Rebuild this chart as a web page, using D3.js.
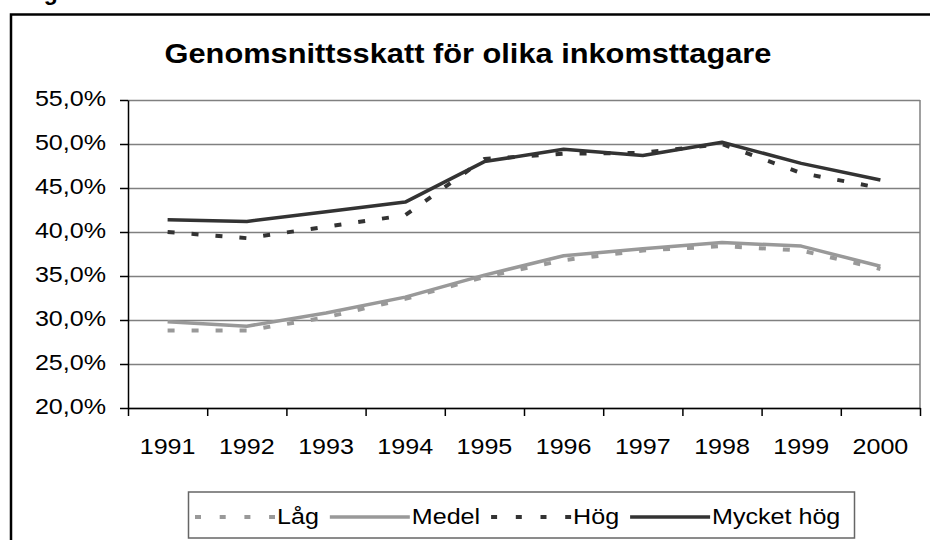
<!DOCTYPE html>
<html>
<head>
<meta charset="utf-8">
<script src="https://cdn.jsdelivr.net/npm/d3@7"></script>
<style>
  body { margin:0; background:#fff; }
  svg { display:block; }
  text { font-family:"Liberation Sans", Arial, sans-serif; fill:#000; }
</style>
</head>
<body>
<div id="canvas"></div>
<script>
// data (percent)
var years = ['1991','1992','1993','1994','1995','1996','1997','1998','1999','2000'];
var lag       = [28.8, 28.8, 30.3, 32.4, 34.9, 36.8, 37.9, 38.4, 37.9, 35.8];
var medel     = [29.8, 29.3, 30.8, 32.6, 35.1, 37.3, 38.1, 38.8, 38.4, 36.1];
var hog       = [40.0, 39.3, 40.6, 41.9, 48.3, 48.9, 49.0, 50.0, 46.7, 45.0];
var mycketHog = [41.4, 41.2, 42.3, 43.4, 48.0, 49.4, 48.7, 50.2, 47.8, 45.9];
var yTicks = [20, 25, 30, 35, 40, 45, 50, 55];
var seriesNames = ['Låg', 'Medel', 'Hög', 'Mycket hög'];

var dark = '#333333', gray = '#999999';
var stretch = 1.14; // the picture's text is a bit wide

var series = [
  {name:seriesNames[0], values:lag,       color:gray, dash:'7,17', width:4},
  {name:seriesNames[1], values:medel,     color:gray, dash:null,   width:3.5},
  {name:seriesNames[2], values:hog,       color:dark, dash:'7,17', width:4},
  {name:seriesNames[3], values:mycketHog, color:dark, dash:null,   width:3.5}
];

var W = 930, H = 540;
var m = {t:100, r:10, b:132, l:128};
var w = 920 - m.l, h = 408 - m.t;

var svg = d3.select('#canvas').append('svg')
    .attr('width', W)
    .attr('height', H);

// heading above the frame, only the descender shows in the picture
svg.append('text')
    .attr('x', 8).attr('y', 0)
    .attr('font-size', 23).attr('font-weight', 'bold')
    .text('Diagram');

// outer frame (runs off the page right and bottom)
svg.append('rect')
    .attr('x', 11).attr('y', 14.5)
    .attr('width', 960).attr('height', 600)
    .attr('fill', 'none').attr('stroke', '#000').attr('stroke-width', 2.5);

// title
svg.append('g')
    .attr('transform', 'translate(468,63)')
  .append('text')
    .attr('transform', 'scale(' + stretch + ',1)')
    .attr('text-anchor', 'middle')
    .attr('font-size', 27).attr('font-weight', 'bold')
    .text('Genomsnittsskatt för olika inkomsttagare');

var plot = svg.append('g')
    .attr('transform', 'translate(' + m.l + ',' + m.t + ')');

var scaleX = d3.scaleBand().domain(years).range([0, w]).padding(0);
var scaleY = d3.scaleLinear().domain([20, 55]).range([h, 0]);
var scaleB = d3.scaleLinear().domain([0, years.length]).range([0, w]); // category borders

// gridlines
var grid = plot.append('g')
    .call(d3.axisLeft(scaleY).tickValues(yTicks).tickSize(-w).tickFormat(''));
grid.select('.domain').remove();
grid.selectAll('line').attr('stroke', '#808080').attr('stroke-width', 1.5);

// right border of plot area
plot.append('line')
    .attr('x1', w).attr('x2', w).attr('y1', 0).attr('y2', h)
    .attr('stroke', '#808080').attr('stroke-width', 1.5);

// y axis
var axisY = plot.append('g')
    .call(d3.axisLeft(scaleY).tickValues(yTicks).tickSize(8).tickSizeOuter(0)
      .tickFormat(function(d){ return d.toFixed(1).replace('.', ',') + '%'; }));
axisY.select('.domain').attr('stroke', '#000').attr('stroke-width', 1.5);
axisY.selectAll('line').attr('stroke', '#000').attr('stroke-width', 1.5);
axisY.selectAll('text')
    .attr('font-size', 22)
    .attr('x', -22 / stretch)
    .attr('dy', '0.25em')
    .attr('transform', 'scale(' + stretch + ',1)');

// x axis: tick marks on category borders, labels in the middle
var axisTicks = plot.append('g')
    .attr('transform', 'translate(0,' + h + ')')
    .call(d3.axisBottom(scaleB).ticks(years.length).tickSize(8).tickSizeOuter(0).tickFormat(''));
axisTicks.select('.domain').attr('stroke', '#000').attr('stroke-width', 1.5);
axisTicks.selectAll('line').attr('stroke', '#000').attr('stroke-width', 1.5);

var axisX = plot.append('g')
    .attr('transform', 'translate(0,' + h + ')')
    .call(d3.axisBottom(scaleX).tickSize(0));
axisX.select('.domain').remove();
axisX.selectAll('text')
    .attr('font-size', 22)
    .attr('y', 46)
    .attr('dy', 0)
    .attr('transform', 'scale(' + stretch + ',1)');

// lines
var line = d3.line()
    .x(function(d, i){ return scaleX(years[i]) + scaleX.bandwidth() / 2; })
    .y(function(d){ return scaleY(d); });

plot.selectAll('.serie')
    .data(series)
    .enter()
    .append('path')
    .attr('class', 'serie')
    .attr('d', function(d){ return line(d.values); })
    .attr('fill', 'none')
    .attr('stroke', function(d){ return d.color; })
    .attr('stroke-width', function(d){ return d.width; })
    .attr('stroke-dasharray', function(d){ return d.dash; })
    .attr('stroke-linejoin', 'round');

// legend
var legend = svg.append('g');
legend.append('rect')
    .attr('x', 188.5).attr('y', 492)
    .attr('width', 666).attr('height', 46)
    .attr('fill', '#fff').attr('stroke', '#666').attr('stroke-width', 1.5);

var lx = 195;
series.forEach(function(s){
  legend.append('line')
      .attr('x1', lx).attr('x2', lx + 80)
      .attr('y1', 517).attr('y2', 517)
      .attr('stroke', s.color)
      .attr('stroke-width', s.width)
      .attr('stroke-dasharray', s.dash ? '6,18.7' : null);
  var t = legend.append('g')
      .attr('transform', 'translate(' + (lx + 82) + ',524)')
    .append('text')
      .attr('transform', 'scale(' + stretch + ',1)')
      .attr('font-size', 22)
      .text(s.name);
  lx += 82 + t.node().getComputedTextLength() * stretch + 11;
});
</script>
</body>
</html>
